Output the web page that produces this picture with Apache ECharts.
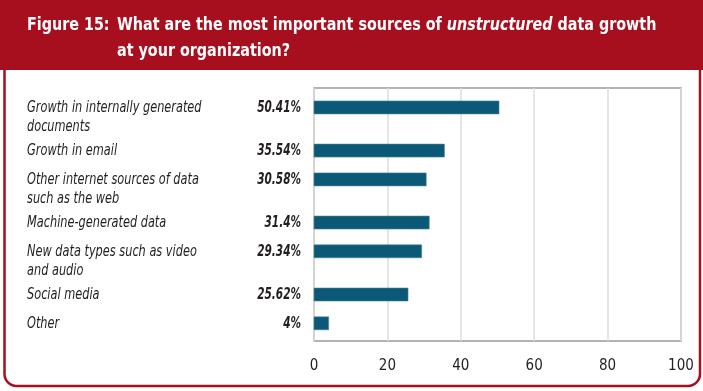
<!DOCTYPE html>
<html>
<head>
<meta charset="utf-8">
<script src="https://cdn.jsdelivr.net/npm/echarts@6/dist/echarts.min.js"></script>
<style>
  html, body { margin: 0; padding: 0; background: #ffffff; }
  #chart { width: 703px; height: 391px; }
</style>
</head>
<body>
<div id="chart"></div>
<script>
// ---- data ----
const categories = [
  'Growth in internally generated\ndocuments',
  'Growth in email',
  'Other internet sources of data\nsuch as the web',
  'Machine-generated data',
  'New data types such as video\nand audio',
  'Social media',
  'Other'
];
const values = [50.41, 35.54, 30.58, 31.4, 29.34, 25.62, 4];
const valueLabels = ['50.41%', '35.54%', '30.58%', '31.4%', '29.34%', '25.62%', '4%'];
const xTicks = [0, 20, 40, 60, 80, 100];

// ---- layout helpers (row positions follow label line counts) ----
const FONT = '"Liberation Sans Narrow", "DejaVu Sans Condensed", "Roboto Condensed", sans-serif';
const RED = '#a70f1f';
const BAR = '#0b5877';
const TEXT = '#231f20';
const LINE_H = 19;
const TITLE_SCALE = 0.91;

let acc = 0;
const rowPos = categories.map(c => {
  const p = acc;
  acc += c.split('\n').length + 1;
  return p;
});

const chart = echarts.init(document.getElementById('chart'), null, { renderer: 'canvas' });

const option = {
  backgroundColor: '#ffffff',
  animation: false,
  graphic: [
    {
      type: 'rect', z: 0,
      shape: { x: 0, y: 0, width: 703, height: 70 },
      style: { fill: RED }
    },
    {
      type: 'rect', z: 0,
      shape: { x: 4.5, y: 1, width: 695.5, height: 385, r: [0, 0, 12, 12] },
      style: { fill: 'none', stroke: RED, lineWidth: 2.5 }
    },
    {
      type: 'text', z: 5,
      x: 27, y: 12, scaleX: TITLE_SCALE,
      style: {
        text: '{f|Figure 15:}{b|What are the most important sources of }{i|unstructured}{b| data growth}\n{f|}{b|at your organization?}',
        verticalAlign: 'top',
        rich: {
          f: { width: 90 / TITLE_SCALE, fill: '#fff', fontFamily: FONT, fontWeight: 'bold', fontSize: 17.5, lineHeight: 26 },
          b: { fill: '#fff', fontFamily: FONT, fontWeight: 'bold', fontSize: 17.5, lineHeight: 26 },
          i: { fill: '#fff', fontFamily: FONT, fontWeight: 'bold', fontStyle: 'italic', fontSize: 17.5, lineHeight: 26 }
        }
      }
    }
  ],
  grid: {
    left: 314, right: 22, top: 88, bottom: 50,
    show: true, borderColor: '#9a9a9a', borderWidth: 1.3,
    containLabel: false
  },
  xAxis: {
    type: 'value',
    min: xTicks[0], max: xTicks[xTicks.length - 1], interval: xTicks[1] - xTicks[0],
    axisLine: { show: false },
    axisTick: { show: false },
    splitLine: { show: true, lineStyle: { color: '#dcdcdc', width: 1.5 } },
    axisLabel: { color: TEXT, fontFamily: FONT, fontSize: 15, margin: 18 }
  },
  yAxis: {
    type: 'value',
    inverse: true,
    min: -1.35,
    max: 16.23,
    show: false,
    splitLine: { show: false }
  },
  series: [{
    type: 'custom',
    clip: false,
    encode: { x: 0, y: 1 },
    data: values.map((v, i) => [v, rowPos[i]]),
    renderItem: function (params, api) {
      const i = params.dataIndex;
      const v = api.value(0), y = api.value(1);
      const s = api.coord([0, y]);
      const e = api.coord([v, y]);
      const h = 13;
      return {
        type: 'group',
        children: [
          {
            type: 'rect',
            shape: { x: s[0], y: s[1] - h / 2, width: e[0] - s[0], height: h },
            style: { fill: BAR, stroke: '#4d87a0', lineWidth: 0.6 }
          },
          {
            type: 'text',
            x: s[0] - 13, y: s[1] + 1, scaleX: 0.78,
            style: {
              text: valueLabels[i], align: 'right', verticalAlign: 'middle',
              fontFamily: FONT, fontSize: 15, fontWeight: 'bold', fontStyle: 'italic', fill: TEXT
            }
          },
          {
            type: 'text',
            x: 27, y: s[1] + 1 - LINE_H / 2, scaleX: 0.84,
            style: {
              text: categories[i], align: 'left', verticalAlign: 'top', lineHeight: LINE_H,
              fontFamily: FONT, fontSize: 15, fontStyle: 'italic', fill: TEXT
            }
          }
        ]
      };
    }
  }]
};

chart.setOption(option);
</script>
</body>
</html>
